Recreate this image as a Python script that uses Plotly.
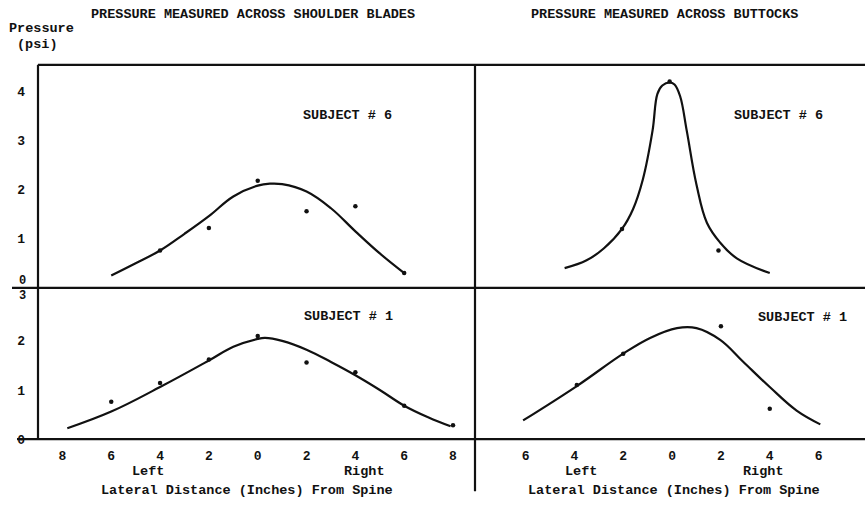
import plotly.graph_objects as go

# ---- data ----
# Shoulder blades, subject 6
sh6_pts_x = [-4, -2, 0, 2, 4, 6]
sh6_pts_y = [0.76, 1.22, 2.18, 1.56, 1.66, 0.30]
sh6_fit_x = [-6, -5, -4, -3, -2, -1, 0, 0.5, 1, 2, 3, 4, 5, 6]
sh6_fit_y = [0.25, 0.50, 0.76, 1.10, 1.46, 1.86, 2.08, 2.12, 2.11, 1.96, 1.62, 1.15, 0.70, 0.30]

# Buttocks, subject 6
bu6_pts_x = [-2.05, -0.1, 1.9]
bu6_pts_y = [1.20, 4.20, 0.76]
bu6_fit_x = [-4.4, -3.5, -2.8, -2.05, -1.6, -1.2, -0.8, -0.6, -0.4, -0.1, 0.1, 0.33, 0.6, 1.0, 1.43, 1.97, 2.65, 4.0]
bu6_fit_y = [0.40, 0.56, 0.80, 1.20, 1.60, 2.20, 3.20, 3.95, 4.12, 4.18, 4.14, 3.90, 3.20, 2.10, 1.32, 0.92, 0.60, 0.30]

# Shoulder blades, subject 1
sh1_pts_x = [-6, -4, -2, 0, 2, 4, 6, 8]
sh1_pts_y = [0.76, 1.14, 1.62, 2.10, 1.56, 1.36, 0.68, 0.28]
sh1_fit_x = [-7.8, -6, -4, -2, -1, 0, 0.3, 1, 2, 3, 4, 5, 6, 7, 7.9]
sh1_fit_y = [0.22, 0.56, 1.06, 1.60, 1.88, 2.04, 2.06, 2.00, 1.82, 1.57, 1.30, 1.00, 0.68, 0.44, 0.26]

# Buttocks, subject 1
bu1_pts_x = [-3.9, -2, 2, 4]
bu1_pts_y = [1.10, 1.74, 2.30, 0.62]
bu1_fit_x = [-6.1, -3.9, -2, -0.9, 0.2, 1.0, 1.97, 2.9, 4, 5.1, 6.07]
bu1_fit_y = [0.38, 1.08, 1.74, 2.06, 2.26, 2.26, 2.02, 1.58, 1.06, 0.58, 0.30]

left_ticks = [-8, -6, -4, -2, 0, 2, 4, 6, 8]
left_ticktext = ["8", "6", "4", "2", "0", "2", "4", "6", "8"]
right_ticks = [-6, -4, -2, 0, 2, 4, 6]
right_ticktext = ["6", "4", "2", "0", "2", "4", "6"]
top_yticks = [1, 2, 3, 4]
bot_yticks = [0, 1, 2]

FONT = "Liberation Mono"
INK = "#111111"
W, H = 865, 509

def px(x):
    return x / W

def py(y):
    return 1 - y / H

def bold(labels):
    return ["<b>" + str(s) + "</b>" for s in labels]

fig = go.Figure()

panels = [
    (sh6_fit_x, sh6_fit_y, sh6_pts_x, sh6_pts_y, "x", "y"),
    (bu6_fit_x, bu6_fit_y, bu6_pts_x, bu6_pts_y, "x2", "y2"),
    (sh1_fit_x, sh1_fit_y, sh1_pts_x, sh1_pts_y, "x3", "y3"),
    (bu1_fit_x, bu1_fit_y, bu1_pts_x, bu1_pts_y, "x4", "y4"),
]
for fx, fy, ptx, pty, xa, ya in panels:
    fig.add_trace(go.Scatter(x=fx, y=fy, mode="lines", xaxis=xa, yaxis=ya,
                             line=dict(color=INK, width=2.2, shape="spline", smoothing=1.1),
                             showlegend=False, hoverinfo="skip"))
    fig.add_trace(go.Scatter(x=ptx, y=pty, mode="markers", xaxis=xa, yaxis=ya,
                             marker=dict(color=INK, size=4.5),
                             showlegend=False))

XL, XM, YT, YM, YB = 38, 475, 66, 293, 447
xl = [px(XL), px(XM)]
xr = [px(XM), 1.0]
yt = [py(YM), py(YT)]
yb = [py(YB), py(YM)]

tickfont = dict(family=FONT, size=13, color=INK)
common_x = dict(showgrid=False, zeroline=False, showline=False, ticks="")
common_y = dict(showgrid=False, zeroline=False, showline=False, ticks="")

fig.update_layout(
    width=W, height=H, autosize=False,
    margin=dict(l=0, r=0, t=0, b=0),
    paper_bgcolor="white", plot_bgcolor="rgba(0,0,0,0)",
    font=dict(family=FONT, color=INK),
    xaxis=dict(domain=xl, range=[-9.0, 8.9], anchor="y", showticklabels=False, **common_x),
    yaxis=dict(domain=yt, range=[0, 4.54], anchor="x", tickvals=top_yticks,
               ticktext=bold(top_yticks), tickfont=tickfont, ticklabelstandoff=12, **common_y),
    xaxis2=dict(domain=xr, range=[-8.07, 7.9], anchor="y2", showticklabels=False, **common_x),
    yaxis2=dict(domain=yt, range=[0, 4.54], anchor="x2", showticklabels=False, **common_y),
    xaxis3=dict(domain=xl, range=[-9.0, 8.9], anchor="y3", tickvals=left_ticks,
                ticktext=bold(left_ticktext), tickfont=tickfont, ticklabelstandoff=7, **common_x),
    yaxis3=dict(domain=yb, range=[0, 3.08], anchor="x3", tickvals=bot_yticks,
                ticktext=bold(bot_yticks), tickfont=tickfont, ticklabelstandoff=12, **common_y),
    xaxis4=dict(domain=xr, range=[-8.07, 7.9], anchor="y4", tickvals=right_ticks,
                ticktext=bold(right_ticktext), tickfont=tickfont, ticklabelstandoff=7, **common_x),
    yaxis4=dict(domain=yb, range=[0, 3.08], anchor="x4", showticklabels=False, **common_y),
)

# frame lines
line = dict(color=INK, width=2.2)
frame = [
    (px(XL), py(YT), 1.0, py(YT)),        # top border
    (px(12), py(YM), 1.0, py(YM)),        # middle line
    (px(17), py(YB), 1.0, py(YB)),        # bottom axis
    (px(XL), py(YT), px(XL), py(YB)),     # left axis
    (px(XM), py(YT), px(XM), py(500)),    # divider
]
for x0, y0, x1, y1 in frame:
    fig.add_shape(type="line", xref="paper", yref="paper", x0=x0, y0=y0, x1=x1, y1=y1, line=line)

def txt(s, x, y, size=13.5, xanchor="center"):
    fig.add_annotation(text="<b>" + s + "</b>", x=px(x), y=py(y),
                       xref="paper", yref="paper",
                       showarrow=False, xanchor=xanchor, yanchor="middle",
                       font=dict(family=FONT, size=size, color=INK))

# the crowded tick labels at the junction of the two rows
txt("0", 22, 286, size=12)
txt("3", 22, 301, size=12)

txt("PRESSURE MEASURED ACROSS SHOULDER BLADES", 253, 15)
txt("PRESSURE MEASURED ACROSS BUTTOCKS", 664, 15)
txt("Pressure", 41, 29)
txt("(psi)", 37, 45)
txt("SUBJECT # 6", 347, 118)
txt("SUBJECT # 6", 778, 118)
txt("SUBJECT # 1", 348, 322)
txt("SUBJECT # 1", 802, 323)
txt("Left", 148, 480)
txt("Right", 364, 480)
txt("Lateral Distance (Inches) From Spine", 247, 499)
txt("Left", 581, 480)
txt("Right", 763, 480)
txt("Lateral Distance (Inches) From Spine", 674, 499)

fig.write_html("out.html", post_script="document.body.style.margin='0';",
               config={"displayModeBar": False})
